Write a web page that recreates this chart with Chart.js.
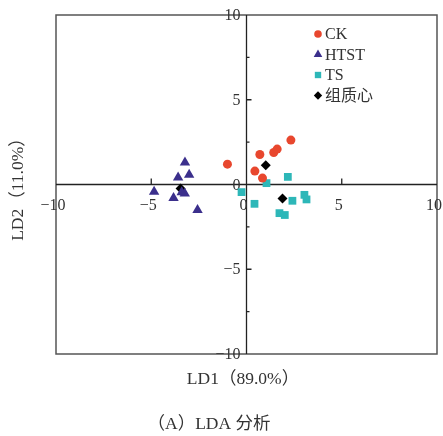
<!DOCTYPE html>
<html>
<head>
<meta charset="utf-8">
<script src="https://cdn.jsdelivr.net/npm/chart.js@4/dist/chart.umd.min.js"></script>
<style>
html, body { margin: 0; padding: 0; background: #fff; }
#wrap { width: 443px; height: 436px; }
</style>
</head>
<body>
<div id="wrap"><canvas id="chart-area"></canvas></div>
<script>
// group names as in the legend
var groups = ["CK", "HTST", "TS", "组质心"];

// LD1 / LD2 scores
var ckX = [-1.0, 0.70, 0.44, 0.84, 1.43, 1.61, 2.33];
var ckY = [1.20, 1.77, 0.79, 0.38, 1.89, 2.09, 2.62];

var htstX = [-3.23, -3.59, -3.01, -4.85, -3.83, -3.24, -3.40, -2.57];
var htstY = [1.30, 0.41, 0.57, -0.43, -0.80, -0.53, -0.45, -1.51];

var tsX = [-0.26, 0.42, 1.05, 2.17, 2.41, 3.04, 3.15, 1.73, 2.01];
var tsY = [-0.45, -1.14, 0.08, 0.45, -0.96, -0.61, -0.88, -1.69, -1.80];

var centX = [1.01, 1.89, -3.46];
var centY = [1.14, -0.82, -0.24];

var xTicks = [-10, -5, 0, 5, 10];
var yTicks = [-10, -5, 0, 5, 10];
var yMinorTicks = [-7.5, -2.5, 2.5, 7.5];

var xTitle = "LD1（89.0%）";
var yTitle = "LD2（11.0%）";
var caption = "（A）LDA 分析";

var colors = ["#e8472e", "#3b2f8c", "#2db7b8", "#000000"];
var styles = ["circle", "triangle", "rect", "rectRot"];
var radii = [4.5, 6, 5.5, 5];
var legendRadii = [3.8, 5, 4.5, 4.2];

var FONT = '"Liberation Serif", "Noto Sans CJK SC", serif';

function toPoints(xs, ys) {
    var pts = [];
    for (var i = 0; i < xs.length; i++) pts.push({x: xs[i], y: ys[i]});
    return pts;
}
var series = [toPoints(ckX, ckY), toPoints(htstX, htstY), toPoints(tsX, tsY), toPoints(centX, centY)];

function fmt(v) {
    return String(v).replace('-', '\u2212');
}

function marker(ctx, style, r, x, y) {
    if (Chart.helpers && Chart.helpers.drawPoint) {
        Chart.helpers.drawPoint(ctx, {pointStyle: style, radius: r, rotation: 0, borderWidth: 0}, x, y);
        return;
    }
    ctx.beginPath();
    ctx.arc(x, y, r, 0, Math.PI * 2);
    ctx.fill();
}

var frameAxes = {
    id: 'frameAxes',
    beforeDatasetsDraw: function(chart) {
        var ctx = chart.ctx, a = chart.chartArea;
        var xs = chart.scales.x, ys = chart.scales.y;
        var x0 = xs.getPixelForValue(0), y0 = ys.getPixelForValue(0);
        ctx.save();
        ctx.strokeStyle = '#555';
        ctx.lineWidth = 1.5;
        ctx.strokeRect(a.left, a.top, a.right - a.left, a.bottom - a.top);

        ctx.strokeStyle = '#222';
        ctx.lineWidth = 1.3;
        ctx.beginPath();
        ctx.moveTo(a.left, y0); ctx.lineTo(a.right, y0);
        ctx.moveTo(x0, a.top); ctx.lineTo(x0, a.bottom);
        // tick marks on the centre axes
        xTicks.forEach(function(t) {
            if (t === 0 || Math.abs(t) === 10) return;
            var px = xs.getPixelForValue(t);
            ctx.moveTo(px, y0); ctx.lineTo(px, y0 - 6);
        });
        yTicks.forEach(function(t) {
            if (t === 0 || Math.abs(t) === 10) return;
            var py = ys.getPixelForValue(t);
            ctx.moveTo(x0, py); ctx.lineTo(x0 + 5, py);
        });
        yMinorTicks.forEach(function(t) {
            var py = ys.getPixelForValue(t);
            ctx.moveTo(x0, py); ctx.lineTo(x0 + 3, py);
        });
        ctx.stroke();

        ctx.fillStyle = '#333';
        ctx.font = '16px ' + FONT;
        ctx.textAlign = 'center';
        ctx.textBaseline = 'middle';
        xTicks.forEach(function(t) {
            ctx.fillText(fmt(t), xs.getPixelForValue(t) - 3, y0 + 21);
        });
        ctx.textAlign = 'right';
        yTicks.forEach(function(t) {
            ctx.fillText(fmt(t), x0 - 6, ys.getPixelForValue(t) + 1);
        });

        // axis titles and caption
        ctx.textAlign = 'center';
        ctx.font = '17.5px ' + FONT;
        ctx.fillText(xTitle, 243, 379);
        ctx.fillText(caption, 209, 424);
        ctx.translate(18, 185);
        ctx.rotate(-Math.PI / 2);
        ctx.fillText(yTitle, 0, 0);
        ctx.restore();
    },
    afterDatasetsDraw: function(chart) {
        var ctx = chart.ctx;
        var rows = [34, 54.5, 75, 95.5];
        ctx.save();
        ctx.font = '16px ' + FONT;
        ctx.textAlign = 'left';
        ctx.textBaseline = 'middle';
        groups.forEach(function(g, i) {
            ctx.fillStyle = colors[i];
            marker(ctx, styles[i], legendRadii[i], 318, rows[i]);
            ctx.fillStyle = '#333';
            ctx.fillText(g, 325, rows[i] + 1);
        });
        ctx.restore();
    }
};

var config = {
    type: 'scatter',
    data: {
        datasets: groups.map(function(g, i) {
            return {
                label: g,
                data: series[i],
                pointStyle: styles[i],
                pointRadius: radii[i],
                backgroundColor: colors[i],
                borderColor: colors[i],
                borderWidth: 0
            };
        })
    },
    options: {
        responsive: true,
        maintainAspectRatio: false,
        animation: false,
        layout: {
            padding: {left: 56, top: 15, right: 6, bottom: 82}
        },
        scales: {
            x: {type: 'linear', min: -10, max: 10, display: false},
            y: {type: 'linear', min: -10, max: 10, display: false}
        },
        plugins: {
            legend: {display: false},
            tooltip: {enabled: false}
        }
    },
    plugins: [frameAxes]
};

var ctx = document.getElementById("chart-area").getContext("2d");
var myScatter = new Chart(ctx, config);
</script>
</body>
</html>
